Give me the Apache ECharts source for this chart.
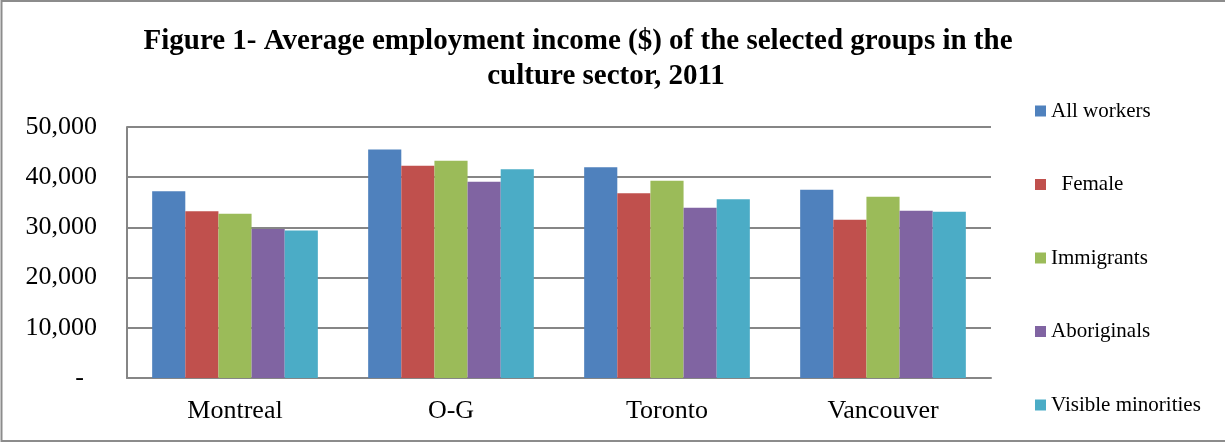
<!DOCTYPE html>
<html>
<head>
<meta charset="utf-8">
<script src="https://cdn.jsdelivr.net/npm/echarts@6/dist/echarts.min.js"></script>
<style>
html,body{margin:0;padding:0;background:#fff;}
#chart{width:1225px;height:444px;}
</style>
</head>
<body>
<div id="chart"></div>
<script>
const categories = ['Montreal', 'O-G', 'Toronto', 'Vancouver'];
const seriesNames = ['All workers', 'Female', 'Immigrants', 'Aboriginals', 'Visible minorities'];
const allWorkers = [37200, 45500, 42000, 37500];
const female = [33200, 42300, 36800, 31500];
const immigrants = [32700, 43300, 39300, 36100];
const aboriginals = [29700, 39100, 33900, 33300];
const visibleMinorities = [29400, 41600, 35600, 33100];
const colors = ['#4F81BD', '#C0504D', '#9BBB59', '#8064A2', '#4BACC6'];
const titleLine1 = 'Figure 1- Average employment income ($) of the selected groups in the';
const titleLine2 = 'culture sector, 2011';

const values = [allWorkers, female, immigrants, aboriginals, visibleMinorities];
const serif = '"Liberation Serif", "Times New Roman", serif';

const chart = echarts.init(document.getElementById('chart'));
chart.setOption({
  animation: false,
  backgroundColor: '#fff',
  title: [
    { text: titleLine1, left: 573, top: 22, textAlign: 'center',
      textStyle: { fontFamily: serif, fontWeight: 'bold', fontSize: 29, color: '#000' } },
    { text: titleLine2, left: 601, top: 57, textAlign: 'center',
      textStyle: { fontFamily: serif, fontWeight: 'bold', fontSize: 29, color: '#000' } }
  ],
  graphic: [{
    type: 'polyline',
    shape: { points: [[1240, 1], [1.5, 1], [1.5, 441], [1240, 441]] },
    style: { stroke: '#8c8c8c', lineWidth: 2, fill: null }
  }],
  legend: {
    orient: 'vertical',
    left: 1035,
    top: 100,
    padding: 0,
    itemWidth: 11,
    itemHeight: 11,
    itemGap: 51.5,
    icon: 'rect',
    data: seriesNames,
    formatter: n => n === 'Female' ? '  Female' : n,
    textStyle: { fontFamily: serif, fontSize: 21, color: '#000', lineHeight: 22 }
  },
  grid: { left: 127, right: 234, top: 127, bottom: 66 },
  xAxis: {
    type: 'category',
    data: categories,
    axisLine: { lineStyle: { color: '#868686', width: 2 } },
    axisTick: { show: false },
    axisLabel: { fontFamily: serif, fontSize: 26, color: '#000', margin: 20 }
  },
  yAxis: {
    type: 'value',
    min: 0, max: 50000, interval: 10000,
    axisLine: { show: true, lineStyle: { color: '#868686', width: 2 } },
    axisTick: { show: false },
    splitLine: { lineStyle: { color: '#868686', width: 2 } },
    axisLabel: {
      fontFamily: serif, fontSize: 26, color: '#000', margin: 30,
      formatter: v => v === 0 ? '{d|-}' : v.toLocaleString('en-US'),
      rich: { d: { fontFamily: serif, fontSize: 26, color: '#000', padding: [0, 13, 0, 0] } }
    }
  },
  series: seriesNames.map((name, i) => ({
    name,
    type: 'bar',
    data: values[i],
    barGap: '0%',
    barCategoryGap: '23.3%',
    itemStyle: { color: colors[i] }
  }))
});
</script>
</body>
</html>
